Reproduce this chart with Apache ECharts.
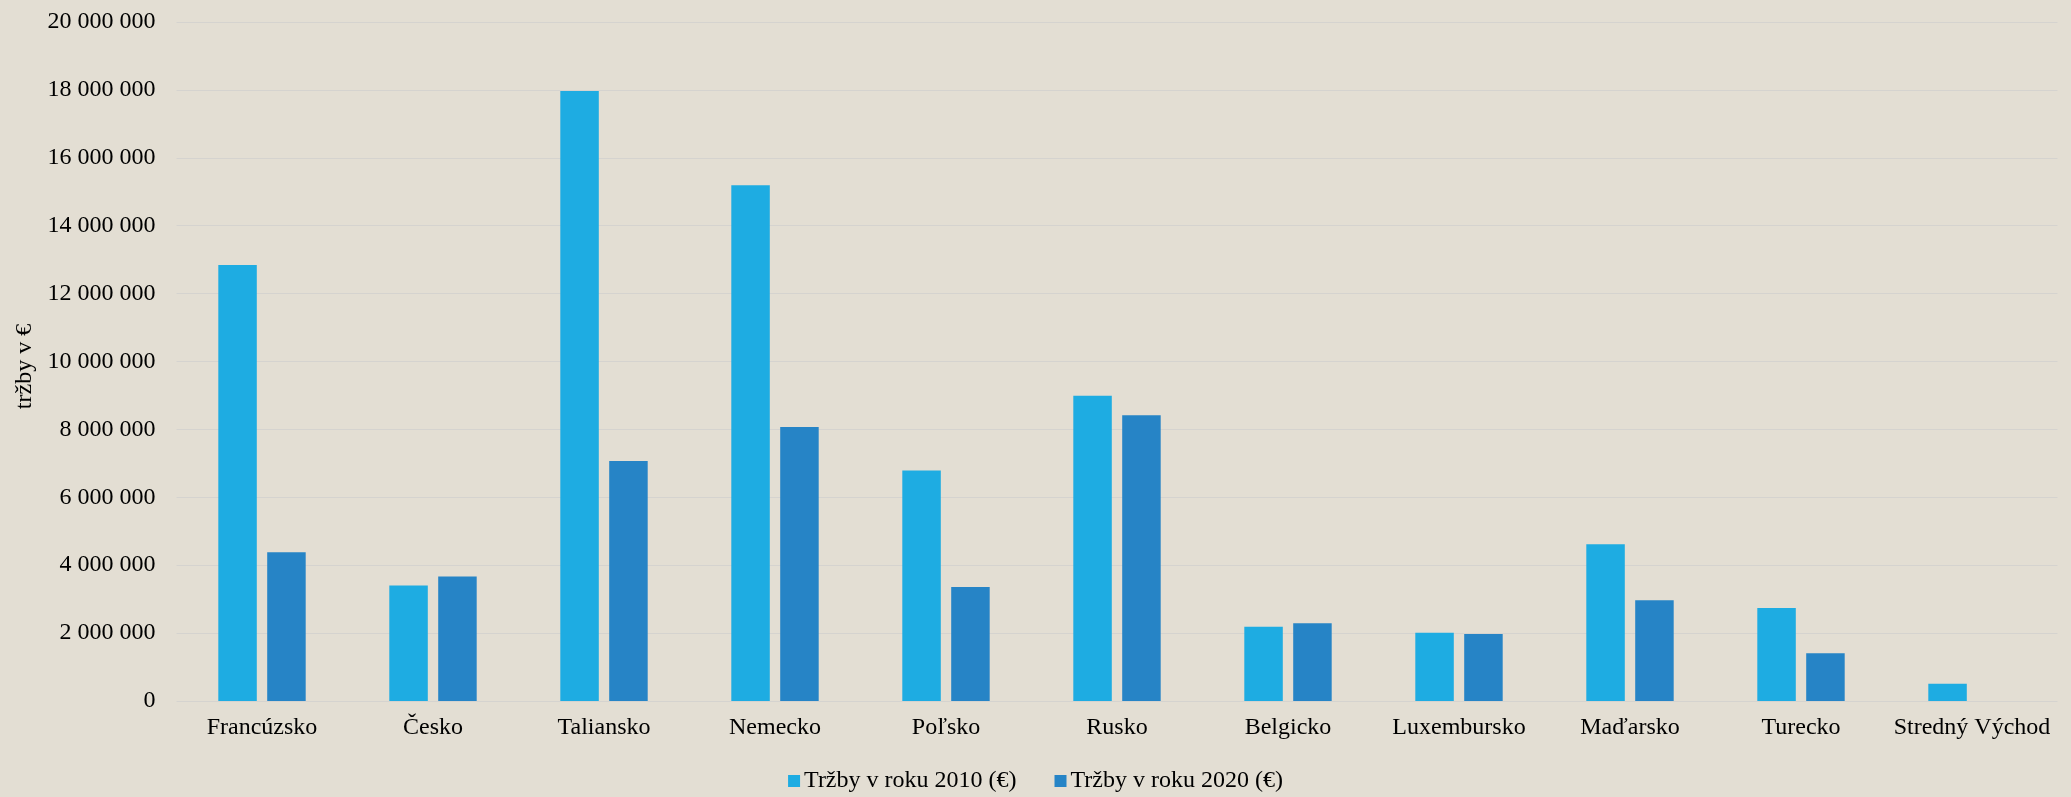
<!DOCTYPE html>
<html>
<head>
<meta charset="utf-8">
<script src="https://cdn.jsdelivr.net/npm/echarts@6/dist/echarts.min.js"></script>
<style>
html,body{margin:0;padding:0;background:#E3DED3;}
#chart{width:2071px;height:797px;}
</style>
</head>
<body>
<div id="chart"></div>
<script>
const categories = ['Francúzsko','Česko','Taliansko','Nemecko','Poľsko','Rusko','Belgicko','Luxembursko','Maďarsko','Turecko','Stredný Východ'];
const sales2010 = [12840000, 3400000, 17970000, 15190000, 6790000, 8990000, 2190000, 2010000, 4620000, 2740000, 510000];
const sales2020 = [4380000, 3670000, 7070000, 8070000, 3360000, 8420000, 2290000, 1970000, 2970000, 1410000, null];
const seriesNames = ['Tržby v roku 2010 (€)', 'Tržby v roku 2020 (€)'];
const yAxisName = 'tržby v €';

const font = '"Liberation Serif", "Times New Roman", serif';
const chart = echarts.init(document.getElementById('chart'));
const fmt = v => String(v).replace(/\B(?=(\d{3})+(?!\d))/g, ' ');

chart.setOption({
  backgroundColor: '#E3DED3',
  textStyle: { fontFamily: font, color: '#000' },
  animation: false,
  grid: { left: 176.5, right: 13.5, top: 22, bottom: 96, containLabel: false },
  legend: {
    data: seriesNames,
    top: 769,
    left: 'center',
    padding: 0,
    itemWidth: 12,
    itemHeight: 12,
    itemGap: 38,
    icon: 'rect',
    textStyle: { fontFamily: font, fontSize: 24, color: '#000', padding: [0, 0, 0, -1] }
  },
  xAxis: {
    type: 'category',
    data: categories,
    axisLine: { show: false },
    axisTick: { show: false },
    axisLabel: { fontFamily: font, fontSize: 24, color: '#000', margin: 15, interval: 0 }
  },
  yAxis: {
    type: 'value',
    min: 0,
    max: 20000000,
    interval: 2000000,
    name: yAxisName,
    nameLocation: 'middle',
    nameGap: 139,
    nameTextStyle: { fontFamily: font, fontSize: 24, color: '#000', padding: [0, 10, 0, 0] },
    axisLine: { show: false },
    axisTick: { show: false },
    axisLabel: { fontFamily: font, fontSize: 24, color: '#000', margin: 21, formatter: fmt },
    splitLine: { lineStyle: { color: '#D5D3CF', width: 1.2 } }
  },
  series: [
    {
      name: seriesNames[0],
      type: 'bar',
      data: sales2010,
      barWidth: 38.5,
      barGap: '27%',
      itemStyle: { color: '#1EACE2' }
    },
    {
      name: seriesNames[1],
      type: 'bar',
      data: sales2020,
      barWidth: 38.5,
      barGap: '27%',
      itemStyle: { color: '#2684C6' }
    }
  ]
});
</script>
</body>
</html>
